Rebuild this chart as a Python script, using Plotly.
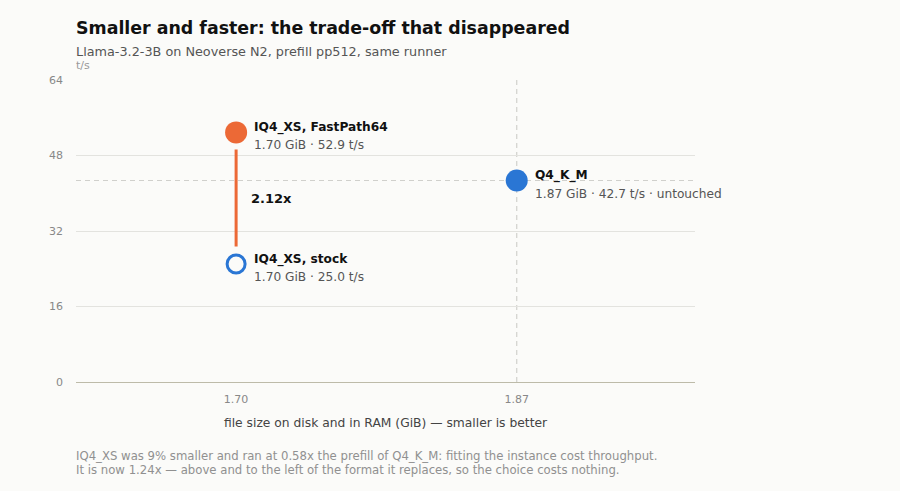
import plotly.graph_objects as go

names = ["IQ4_XS, stock", "IQ4_XS, FastPath64", "Q4_K_M"]
size_gib = [1.70, 1.70, 1.87]
tps = [25.0, 52.9, 42.7]
notes = ["", "", " · untouched"]
x_ticks = [1.70, 1.87]
y_ticks = [0, 16, 32, 48, 64]

ORANGE = "#ec6936"
BLUE = "#2a76d4"
BG = "#fbfbf9"
FONT = "DejaVu Sans"

fig = go.Figure()

# stock (open)
fig.add_trace(go.Scatter(x=[size_gib[0]], y=[tps[0]], mode="markers",
                         marker=dict(size=18, color=BG, line=dict(color=BLUE, width=3)),
                         showlegend=False, hoverinfo="skip"))
# fastpath
fig.add_trace(go.Scatter(x=[size_gib[1]], y=[tps[1]], mode="markers",
                         marker=dict(size=22, color=ORANGE, line=dict(width=0)),
                         showlegend=False, hoverinfo="skip"))
# Q4_K_M
fig.add_trace(go.Scatter(x=[size_gib[2]], y=[tps[2]], mode="markers",
                         marker=dict(size=22, color=BLUE, line=dict(width=0)),
                         showlegend=False, hoverinfo="skip"))

# reference dashed lines through Q4_K_M
fig.add_shape(type="line", xref="paper", x0=0, x1=1, yref="y", y0=tps[2], y1=tps[2],
              line=dict(color="#d0d0cc", width=1.2, dash="5px,4px"), layer="below")
fig.add_shape(type="line", xref="x", x0=size_gib[2], x1=size_gib[2], yref="paper", y0=0, y1=1,
              line=dict(color="#d0d0cc", width=1.2, dash="5px,4px"), layer="below")

# connector
fig.add_annotation(x=size_gib[1], y=tps[1], ax=size_gib[0], ay=tps[0], axref="x", ayref="y",
                   xref="x", yref="y", text="", showarrow=True, arrowhead=0,
                   arrowwidth=3, arrowcolor=ORANGE, standoff=17, startstandoff=16)
ratio = tps[1] / tps[0]
fig.add_annotation(x=size_gib[0], y=(tps[0] + tps[1]) / 2, xref="x", yref="y",
                   text=f"<b>{ratio:.2f}x</b>", showarrow=False, xanchor="left", xshift=13,
                   font=dict(family=FONT, size=13, color="#111"))

for n, xv, yv, nt in zip(names, size_gib, tps, notes):
    fig.add_annotation(x=xv, y=yv, xref="x", yref="y", text=f"<b>{n}</b>", showarrow=False,
                       xanchor="left", yanchor="middle", xshift=16, yshift=5,
                       font=dict(family=FONT, size=12.2, color="#111"))
    fig.add_annotation(x=xv, y=yv, xref="x", yref="y",
                       text=f"{xv:.2f} GiB · {yv:.1f} t/s{nt}", showarrow=False,
                       xanchor="left", yanchor="middle", xshift=16, yshift=-13,
                       font=dict(family=FONT, size=12.2, color="#555"))

# titles
fig.add_annotation(xref="paper", yref="paper", x=0, y=1, xanchor="left", yanchor="middle",
                   xshift=-2, yshift=52,
                   text="<b>Smaller and faster: the trade-off that disappeared</b>",
                   showarrow=False, font=dict(family=FONT, size=17.4, color="#111"))
fig.add_annotation(xref="paper", yref="paper", x=0, y=1, xanchor="left", yanchor="middle",
                   xshift=-2, yshift=29,
                   text="Llama-3.2-3B on Neoverse N2, prefill pp512, same runner",
                   showarrow=False, font=dict(family=FONT, size=12.8, color="#555"))
fig.add_annotation(xref="paper", yref="paper", x=0, y=1, xanchor="left", yanchor="middle",
                   xshift=-2, yshift=15, text="t/s", showarrow=False,
                   font=dict(family=FONT, size=11, color="#999"))
fig.add_annotation(xref="paper", yref="paper", x=0, y=0, xanchor="left", yanchor="middle",
                   xshift=-2, yshift=-74,
                   text="IQ4_XS was 9% smaller and ran at 0.58x the prefill of Q4_K_M: fitting the instance cost throughput.",
                   showarrow=False, font=dict(family=FONT, size=11.7, color="#909090"))
fig.add_annotation(xref="paper", yref="paper", x=0, y=0, xanchor="left", yanchor="middle",
                   xshift=-2, yshift=-88,
                   text="It is now 1.24x — above and to the left of the format it replaces, so the choice costs nothing.",
                   showarrow=False, font=dict(family=FONT, size=11.7, color="#909090"))

fig.update_layout(
    width=900, height=491,
    margin=dict(l=76, r=205, t=80, b=109),
    paper_bgcolor=BG, plot_bgcolor=BG,
    font=dict(family=FONT),
    xaxis=dict(range=[1.603, 1.978], tickvals=x_ticks, ticktext=[f"{v:.2f}" for v in x_ticks],
               showgrid=False, zeroline=False, showline=False, ticks="",
               ticklabelstandoff=9,
               tickfont=dict(size=11, color="#888"),
               title=dict(text="file size on disk and in RAM (GiB) — smaller is better",
                          font=dict(size=12.3, color="#444"), standoff=13)),
    yaxis=dict(range=[0, 64], tickvals=y_ticks, showgrid=True, gridcolor="#e3e3df",
               gridwidth=1, zeroline=True, zerolinecolor="#bdbba9", zerolinewidth=1.2,
               showline=False, ticks="", ticklabelstandoff=12,
               tickfont=dict(size=11, color="#888")),
)

fig.write_html("out.html", config={"displayModeBar": False},
               post_script="document.body.style.margin='0';document.body.style.background='" + BG + "';")
